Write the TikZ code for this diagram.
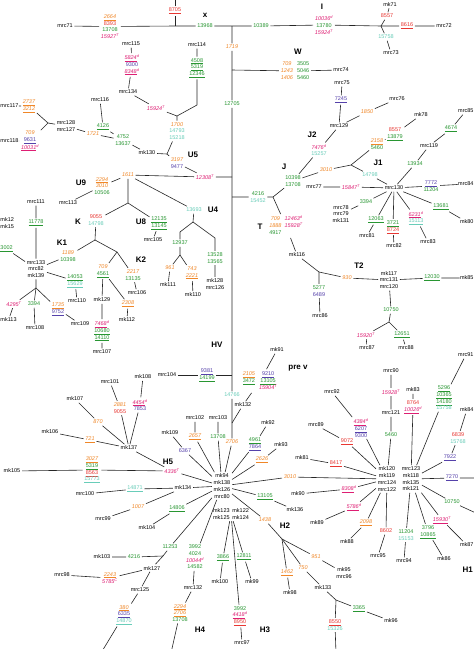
\documentclass[tikz,border=0pt]{standalone}
\usepackage{fontspec}
\setmainfont{Liberation Sans}
\usepackage{xcolor}
\usepackage{tikz}
\definecolor{mutorange}{RGB}{240,135,40}
\definecolor{mutgreen}{RGB}{40,150,50}
\definecolor{mutred}{RGB}{232,55,50}
\definecolor{mutpink}{RGB}{222,30,115}
\definecolor{mutpurple}{RGB}{85,65,170}
\definecolor{mutteal}{RGB}{105,205,185}
\newcommand{\mOr}[1]{\textcolor{mutorange}{\itshape #1}}
\newcommand{\mGr}[1]{\textcolor{mutgreen}{#1}}
\newcommand{\mRd}[1]{\textcolor{mutred}{#1}}
\newcommand{\mPk}[2]{\textcolor{mutpink}{\itshape #1\textsuperscript{#2}}}
\newcommand{\mPu}[1]{\textcolor{mutpurple}{#1}}
\newcommand{\mTl}[1]{\textcolor{mutteal}{#1}}

\begin{document}
\begin{tikzpicture}[x=1pt,y=-1pt,
    smp/.style={font=\fontsize{5.5}{6.7}\selectfont,inner sep=1.6pt,align=center},
    hap/.style={font=\fontsize{8}{9}\selectfont\bfseries,inner sep=0pt},
    lnk/.style={line width=0.6pt,black!85},
  ]
  \fill[white] (0,0) rectangle (474,649);
  \useasboundingbox (0,0) rectangle (474,649);

  % top line
  \node[smp](mrc71) at (65,26){mrc71};
  \node[smp](s2664) at (110,26.5){\mOr{\underline{2664}}\\\mRd{8393}\\\mGr{13708}\\\mPk{15927}{T}};
  \coordinate (j8705) at (175,26);
  \node[smp](n8705) at (175,11){\mRd{\underline{8705}}};
  \coordinate (ctop) at (175,-3);
  \node[hap](lx) at (205,15){x};
  \node[smp](n13968) at (205,26){\mGr{13968}};
  \coordinate (jtop) at (232,26);
  \node[smp](n10389) at (261,26){\mGr{10389}};
  \node[hap](lI) at (322,7){I};
  \node[smp](sI) at (324,25){\mPk{10036}{d}\\\mGr{13780}\\\mPk{15924}{T}};
  \coordinate (jI) at (381,26);
  \node[smp](n8557a) at (387,16){\mRd{8557}};
  \node[smp](mk71) at (390,4.5){mk71};
  \node[smp](n15758a) at (386,37){\mTl{15758}};
  \node[smp](mrc73) at (391,53){mrc73};
  \node[smp](n8616) at (407,26){\mRd{\underline{8616}}};
  \node[smp](mrc72) at (444,26){mrc72};
  \draw[lnk](mrc71)--(s2664)--(j8705)--(n13968)--(jtop)--(n10389)--(sI)--(jI)--(n8616)--(mrc72);
  \draw[lnk](j8705)--(n8705)--(ctop);
  \draw[lnk](jI)--(n8557a)--(mk71);
  \draw[lnk](jI)--(n15758a)--(mrc73);

  % W and trunk
  \coordinate (jW) at (232,70);
  \node[hap](lW) at (298,52){W};
  \node[smp](sW) at (295,71){\begin{tabular}{@{}c@{\hspace{4pt}}c@{}}
    \mOr{709}&\mGr{3505}\\\mOr{1243}&\mGr{5046}\\\mOr{1406}&\mGr{5460}\end{tabular}};
  \node[smp](mrc74) at (341,70){mrc74};
  \draw[lnk](jW)--(sW)--(mrc74);
  \node[smp](n1719) at (232,47){\mOr{1719}};
  \node[smp](n12705) at (232,104){\mGr{12705}};
  \coordinate (j12308) at (232,177);
  \coordinate (j4216) at (232,197);
  \coordinate (jHV) at (232,375);
  \node[smp](n14766) at (232,395){\mTl{14766}};
  \coordinate (jmk132) at (232,423);
  \node[smp](n2706) at (232,442){\mOr{2706}};
  \node[smp](hubH) at (222,486){mk94\\mk138\\mk126\\mrc80};
  \node[smp](hubH2) at (231,514){mk123\enspace mk122\\mk125\enspace mk124};
  \draw[lnk](jtop)--(n1719)--(jW)--(n12705)--(j12308)--(j4216)--(jHV)--(n14766)--(jmk132)--(n2706)--(hubH);

  % U5
  \node[smp](mrc115) at (131,44){mrc115};
  \node[smp](s5824) at (132,65){\mPk{\underline{5824}}{d}\\\mPu{9300}\\\mPk{\underline{8348}}{d}};
  \node[smp](mrc134) at (128,92){mrc134};
  \node[smp](n15924b) at (156,108){\mPk{15924}{T}};
  \node[smp](mrc114) at (197,45){mrc114};
  \node[smp](s4508) at (197,68){\mGr{\underline{4508}}\\\mGr{\underline{5319}}\\\mGr{\underline{12346}}};
  \coordinate (cU5) at (197,105);
  \coordinate (jU5t) at (177,116);
  \node[smp](s1700) at (177,131){\mOr{1700}\\\mTl{14793}\\\mTl{15218}};
  \node[hap](lU5) at (193,155){U5};
  \coordinate (jU5) at (167,154);
  \node[smp](s3197) at (177,163){\mOr{3197}\\\mPu{9477}};
  \node[smp](n12308) at (205,177){\mPk{12308}{T}};
  \node[smp](mk130) at (147,153){mk130};
  \node[smp](s4752) at (123,140){\mGr{4752}\\\mGr{13637}};
  \node[smp](n4126) at (103,127){\mGr{\underline{4126}}};
  \node[smp](mrc116) at (100,100){mrc116};
  \node[smp](n1721) at (93,134){\mOr{1721}};
  \node[smp](smrc128) at (66,126){mrc128\\mrc127};
  \coordinate (jL) at (48,123);
  \node[smp](s2737) at (29,106){\mOr{\underline{2737}}\\\mOr{\underline{3212}}};
  \node[smp,anchor=west,inner xsep=0.3pt](mrc117) at (0,106){mrc117};
  \node[smp](s709a) at (30,141){\mOr{709}\\\mPu{\underline{9631}}\\\mPk{\underline{10031}}{d}};
  \node[smp,anchor=west,inner xsep=0.3pt](mrc118) at (0,141){mrc118};
  \draw[lnk](mrc115)--(s5824)--(mrc134)--(n15924b)--(jU5t)--(s1700)--(jU5)--(s3197)--(n12308)--(j12308);
  \draw[lnk](mrc114)--(s4508)--(cU5)--(jU5t);
  \draw[lnk](jU5)--(mk130)--(s4752)--(n1721)--(smrc128)--(jL);
  \draw[lnk](mrc116)--(n4126)--(s4752);
  \draw[lnk](mrc117)--(s2737)--(jL)--(s709a)--(mrc118);

  % U9, K, U8
  \node[smp](n1611) at (128,175){\mOr{1611}};
  \node[hap](lU9) at (81,183){U9};
  \node[smp](s2294) at (102,186){\mOr{\underline{2294}}\\\mOr{3010}\\\mGr{10506}};
  \node[smp](mrc113) at (68,203){mrc113};
  \coordinate (jK) at (128,203);
  \node[smp](sK) at (96,220){\mRd{9055}\\\mTl{14798}};
  \node[hap](lK) at (78,222){K};
  \coordinate (jK1) at (95,240);
  \coordinate (jK2) at (117,252);
  \node[smp](sK1) at (68,256){\mOr{1189}\\\mGr{10398}};
  \node[hap](lK1) at (62,243){K1};
  \node[smp](s709b) at (103,271){\mOr{709}\\\mGr{\underline{4561}}};
  \node[smp](s2217) at (133,275){\mOr{2217}\\\mGr{13135}};
  \node[hap](lK2) at (141,260){K2};
  \node[smp](mrc106) at (137,293){mrc106};
  \node[smp](mk129) at (102,300){mk129};
  \node[smp](n2308) at (128,304){\mOr{\underline{2308}}};
  \node[smp](mk112) at (127,320){mk112};
  \node[smp](s7468) at (102,331){\mPk{\underline{7468}}{d}\\\mGr{\underline{10680}}\\\mGr{\underline{14110}}};
  \node[smp](mrc107) at (102,352){mrc107};
  \node[hap](lU8) at (141,222){U8};
  \node[smp](sU8) at (159,223){\mGr{\underline{12135}}\\\mGr{\underline{13145}}};
  \node[smp](mrc105) at (153,240){mrc105};
  \draw[lnk](n12308)--(n1611)--(jK)--(sK)--(jK1)--(sK1);
  \draw[lnk](s2294)--(n1611);
  \draw[lnk](s2294)--(mrc113);
  \draw[lnk](jK)--(sU8)--(mrc105);
  \draw[lnk](jK1)--(jK2)--(s709b)--(mk129)--(s7468)--(mrc107);
  \draw[lnk](jK2)--(s2217)--(mrc106);
  \draw[lnk](s709b)--(n2308)--(mk112);

  % U4
  \node[smp](n13693) at (194,210){\mTl{13693}};
  \node[hap](lU4) at (213,210){U4};
  \coordinate (jU4) at (193,222);
  \coordinate (cU4a) at (180,232);
  \coordinate (cU4b) at (215,238);
  \node[smp](n12937) at (180,243){\mGr{12937}};
  \node[smp](s13528) at (215,258){\mGr{13528}\\\mGr{13565}};
  \node[smp](smk128) at (215,284){mk128\\mrc126};
  \coordinate (jU4b) at (180,255);
  \node[smp](n961) at (170,268){\mOr{961}};
  \node[smp](s743) at (192,273){\mOr{743}\\\mOr{\underline{2221}}};
  \node[smp](mk111) at (168,285){mk111};
  \node[smp](mk110) at (193,295){mk110};
  \draw[lnk](n1611)--(n13693)--(jU4)--(cU4a)--(n12937)--(jU4b)--(n961)--(mk111);
  \draw[lnk](jU4)--(cU4b)--(s13528)--(smk128);
  \draw[lnk](jU4b)--(s743)--(mk110);

  % K1 hub
  \node[smp](hub133) at (36,269){mrc133\\mrc82\\mk139};
  \node[smp](mrc111) at (36,202){mrc111};
  \node[smp](n11778) at (36,223){\mGr{\underline{11778}}};
  \node[smp](s14053) at (75,281){\mGr{\underline{14053}}\\\mTl{\underline{15629}}};
  \node[smp](mrc110) at (77,301){mrc110};
  \coordinate (j133) at (36,288);
  \node[smp](n4295) at (14,304){\mPk{4295}{T}};
  \node[smp](n3394a) at (34,304){\mGr{3394}};
  \node[smp](s1735) at (58,309){\mOr{\underline{1735}}\\\mPu{\underline{9752}}};
  \node[smp,anchor=west,inner xsep=0.3pt](mk113) at (0,320){mk113};
  \node[smp](mrc108) at (35,328){mrc108};
  \node[smp](mrc109) at (80,324){mrc109};
  \node[smp,anchor=west,inner xsep=0.3pt](sL12) at (0,223){mk12\\mk15};
  \node[smp,anchor=west,inner xsep=0.3pt](n3002) at (0,249){\mGr{\underline{3002}}};
  \draw[lnk](mrc111)--(n11778)--(hub133)--(sK1);
  \draw[lnk](hub133)--(s14053)--(mrc110);
  \draw[lnk](hub133)--(j133)--(n4295)--(mk113);
  \draw[lnk](j133)--(n3394a)--(mrc108);
  \draw[lnk](j133)--(s1735)--(mrc109);
  \draw[lnk](n3002)--(hub133);

  % J and T
  \node[smp](s4216) at (258,197){\mGr{4216}\\\mTl{15452}};
  \coordinate (jJT) at (273,197);
  \node[smp](sJ) at (293,181){\mGr{10398}\\\mGr{13708}};
  \node[hap](lJ) at (284,167){J};
  \node[smp](sT) at (286,226){\begin{tabular}{@{}c@{\hspace{3pt}}c@{}}
    \mOr{709}&\mPk{12463}{d}\\\mOr{1888}&\mPk{15928}{T}\\\mGr{4917}&\end{tabular}};
  \node[hap](lT) at (260,227){T};
  \draw[lnk](j4216)--(s4216)--(jJT)--(sJ);
  \draw[lnk](jJT)--(sT);

  % T2
  \node[smp](mk116) at (297,255){mk116};
  \coordinate (jT2) at (319,272);
  \node[smp](s5277) at (319,291){\mGr{5277}\\\mPu{6489}};
  \node[smp](mrc86) at (320,316){mrc86};
  \node[smp](n930) at (347,278){\mOr{930}};
  \node[hap](lT2) at (359,266){T2};
  \node[smp](sT2) at (389,280){mk117\\mrc131\\mrc120};
  \node[smp](n12030) at (432,278){\mGr{\underline{12030}}};
  \node[smp,anchor=east,inner xsep=0.3pt](mk85) at (474,278){mk85};
  \node[smp](n10750) at (391,310){\mGr{10750}};
  \coordinate (jT2b) at (389,322);
  \node[smp](n15920) at (366,335){\mPk{15920}{T}};
  \node[smp](n12651) at (402,335){\mGr{\underline{12651}}};
  \node[smp](mrc87) at (367,348){mrc87};
  \node[smp](mrc88) at (406,348){mrc88};
  \draw[lnk](sT)--(mk116)--(jT2)--(s5277)--(mrc86);
  \draw[lnk](jT2)--(n930)--(sT2)--(n12030)--(mk85);
  \draw[lnk](sT2)--(n10750)--(jT2b)--(n15920)--(mrc87);
  \draw[lnk](jT2b)--(n12651)--(mrc88);

  % J2, J1
  \node[hap](lJ2) at (312,135){J2};
  \node[smp](s7476) at (319,150){\mPk{7476}{d}\\\mTl{15257}};
  \node[smp](mrc129) at (339,126){mrc129};
  \node[smp](n7245) at (341,100){\mPu{\underline{7245}}};
  \node[smp](mrc75) at (342,83){mrc75};
  \node[smp](n1850) at (367,112){\mOr{1850}};
  \node[smp](mrc76) at (397,99){mrc76};
  \draw[lnk](sJ)--(s7476)--(mrc129)--(n7245)--(mrc75);
  \draw[lnk](mrc129)--(n1850)--(mrc76);
  \node[smp](n3010c) at (326,170){\mOr{3010}};
  \coordinate (jJ1) at (351,165);
  \node[smp](s2158) at (377,144){\mOr{\underline{2158}}\\\mGr{5460}};
  \node[hap](lJ1) at (378,163){J1};
  \node[smp](n14798b) at (370,175){\mTl{14798}};
  \node[smp](mrc130) at (394,188){mrc130};
  \node[smp](mk78) at (421,115){mk78};
  \node[smp](s8557) at (395,134){\mRd{8557}\\\mGr{\underline{13879}}};
  \node[smp,anchor=east,inner xsep=0.3pt](mrc85) at (474,111){mrc85};
  \node[smp](n4674) at (451,129){\mGr{\underline{4674}}};
  \node[smp](mrc119) at (429,146){mrc119};
  \node[smp](n13934) at (415,164){\mGr{13934}};
  \node[smp](n15847) at (351,187){\mPk{15847}{T}};
  \node[smp](mrc77) at (314,187){mrc77};
  \node[smp](s7772) at (431,186){\mPu{\underline{7772}}\\\mGr{11204}};
  \node[smp,anchor=east,inner xsep=0.3pt](mrc84) at (474,184){mrc84};
  \node[smp](n13681) at (441,207){\mGr{\underline{13681}}};
  \node[smp,anchor=east,inner xsep=0.3pt](mk80) at (474,222){mk80};
  \node[smp](s6231) at (416,218){\mPk{\underline{6231}}{d}\\\mTl{\underline{15113}}};
  \node[smp](mrc83) at (428,242){mrc83};
  \node[smp](s3721) at (393,227){\mGr{\underline{3721}}\\\mRd{\underline{8724}}};
  \node[smp](mrc82b) at (394,246){mrc82};
  \node[smp](n12063) at (376,220){\mGr{\underline{12063}}};
  \node[smp](mrc81) at (367,236){mrc81};
  \node[smp](n3394b) at (366,202){\mGr{3394}};
  \node[smp](smrc78) at (341,214){mrc78\\mrc79\\mk131};
  \draw[lnk](sJ)--(n3010c)--(jJ1)--(s2158)--(s8557)--(mk78);
  \draw[lnk](jJ1)--(n14798b)--(mrc130);
  \draw[lnk](mrc85)--(n4674)--(mrc119)--(n13934)--(mrc130);
  \draw[lnk](mrc77)--(n15847)--(mrc130)--(s7772)--(mrc84);
  \draw[lnk](mrc130)--(n13681)--(mk80);
  \draw[lnk](mrc130)--(s6231)--(mrc83);
  \draw[lnk](mrc130)--(s3721)--(mrc82b);
  \draw[lnk](mrc130)--(n12063)--(mrc81);
  \draw[lnk](mrc130)--(n3394b)--(smrc78);

  % HV and pre V
  \node[smp](mrc104) at (167,375){mrc104};
  \node[smp](s9381) at (207,375){\mPu{\underline{9381}}\\\mGr{\underline{14199}}};
  \node[hap](lHV) at (217,345){HV};
  \node[smp](mk91) at (277,350){mk91};
  \node[hap](lpre) at (298,368){pre v};
  \node[smp](s2105) at (260,381){\begin{tabular}{@{}c@{\hspace{4pt}}c@{}}
    \mOr{\underline{2105}}&\mPu{\underline{9210}}\\\mGr{\underline{3472}}&\mGr{\underline{13105}}\\&\mPk{15904}{T}\end{tabular}};
  \node[smp](mk132) at (243,405){mk132};
  \draw[lnk](mrc104)--(s9381)--(jHV);
  \draw[lnk](mk91)--(s2105)--(mk132)--(jmk132);

  % H hub
  \node[smp](mrc102) at (195,418){mrc102};
  \node[smp](n2657) at (195,437){\mOr{\underline{2657}}};
  \node[smp](mrc103) at (218,418){mrc103};
  \node[smp](n13708b) at (218,437){\mGr{13708}};
  \node[smp](mk109) at (170,433){mk109};
  \node[smp](n6367) at (185,451){\mPu{6367}};
  \node[smp](mk92) at (268,423){mk92};
  \node[smp](s4961) at (255,444){\mGr{\underline{4961}}\\\mPu{\underline{7864}}};
  \node[smp](mk93) at (281,445){mk93};
  \node[smp](n2626) at (262,460){\mOr{\underline{2626}}};
  \node[smp](n3010b) at (290,477){\mOr{3010}};
  \draw[lnk](mrc102)--(n2657)--(hubH);
  \draw[lnk](mrc103)--(n13708b)--(hubH);
  \draw[lnk](mk109)--(n6367)--(hubH);
  \draw[lnk](mk92)--(s4961)--(hubH);
  \draw[lnk](mk93)--(n2626)--(hubH);

  % H5
  \node[hap](lH5) at (168,462){H5};
  \node[smp](n4336) at (172,471){\mPk{4336}{T}};
  \node[smp](s3027) at (92,470){\mOr{\underline{3027}}\\\mGr{\underline{5319}}\\\mRd{\underline{8563}}\\\mTl{\underline{15773}}};
  \node[smp](mk105) at (12,471){mk105};
  \node[smp](mk137) at (129,448){mk137};
  \node[smp](s2881) at (120,408){\mOr{2881}\\\mRd{9055}};
  \node[smp](mrc101) at (110,382){mrc101};
  \node[smp](s4454) at (140,405){\mPk{\underline{4454}}{d}\\\mPu{7853}};
  \node[smp](mk108) at (143,377){mk108};
  \node[smp](n870) at (98,422){\mOr{870}};
  \node[smp](mk107) at (75,399){mk107};
  \node[smp](n721) at (90,440){\mOr{\underline{721}}};
  \node[smp](mk106) at (50,432){mk106};
  \draw[lnk](mk105)--(s3027)--(n4336)--(hubH);
  \draw[lnk](mk137)--(n4336);
  \draw[lnk](mrc101)--(s2881)--(mk137);
  \draw[lnk](mk108)--(s4454)--(mk137);
  \draw[lnk](mk107)--(n870)--(mk137);
  \draw[lnk](mk106)--(n721)--(mk137);

  % lower left
  \node[smp](mk134) at (183,488){mk134};
  \node[smp](n14871) at (135,489){\mTl{\underline{14871}}};
  \node[smp](mrc100) at (85,494){mrc100};
  \node[smp](n1007) at (138,507){\mOr{1007}};
  \node[smp](mrc99) at (103,519){mrc99};
  \node[smp](n14806) at (177,509){\mGr{\underline{14806}}};
  \node[smp](mk104) at (147,528){mk104};
  \draw[lnk](mrc100)--(n14871)--(mk134)--(hubH);
  \draw[lnk](mrc99)--(n1007)--(mk134);
  \draw[lnk](mk104)--(n14806)--(hubH);
  \node[smp](n11253) at (170,547){\mGr{11253}};
  \coordinate (j127) at (163,556);
  \node[smp](mk127) at (152,568){mk127};
  \node[smp](n4216b) at (134,557){\mGr{4216}};
  \node[smp](mk103) at (102,557){mk103};
  \node[smp](s2243) at (110,578){\mOr{\underline{2243}}\\\mPk{5785}{C}};
  \node[smp](mrc98) at (62,575){mrc98};
  \node[smp](mrc125) at (140,590){mrc125};
  \node[smp](s380) at (124,615){\mOr{\underline{380}}\\\mPu{\underline{6335}}\\\mTl{\underline{14870}}};
  \coordinate (cbot1) at (101,653);
  \draw[lnk](hubH)--(n11253)--(j127)--(mk127);
  \draw[lnk](mk103)--(n4216b)--(j127);
  \draw[lnk](mrc98)--(s2243)--(mk127)--(mrc125)--(s380)--(cbot1);

  % H4, H3
  \node[smp](s3992) at (195,557){\mGr{3992}\\\mGr{4024}\\\mPk{10044}{d}\\\mGr{14582}};
  \node[smp](mrc132) at (193,588){mrc132};
  \node[smp](s2294b) at (180,613){\mOr{\underline{2294}}\\\mOr{\underline{2706}}\\\mGr{13708}};
  \node[hap](lH4) at (200,630){H4};
  \coordinate (cbot2) at (171,653);
  \draw[lnk](hubH)--(s3992)--(mrc132)--(s2294b)--(cbot2);
  \node[smp](n3866) at (223,558){\mGr{\underline{3866}}};
  \node[smp](mk100) at (220,582){mk100};
  \node[smp](n12811) at (244,557){\mGr{\underline{12811}}};
  \node[smp](mk99) at (252,582){mk99};
  \node[smp](s3992b) at (240,616){\mGr{3992}\\\mPk{\underline{4418}}{d}\\\mRd{\underline{8950}}};
  \node[smp](mrc97) at (242,643){mrc97};
  \node[hap](lH3) at (265,630){H3};
  \draw[lnk](hubH2)--(n3866)--(mk100);
  \draw[lnk](hubH2)--(n12811)--(mk99);
  \draw[lnk](hubH2)--(s3992b)--(mrc97);

  % H2
  \node[smp](n1438) at (265,520){\mOr{1438}};
  \node[hap](lH2) at (285,526){H2};
  \coordinate (jH2) at (282,539);
  \node[smp](n1462) at (287,573){\mOr{\underline{1462}}};
  \node[smp](mk98) at (290,593){mk98};
  \node[smp](n951) at (316,557){\mOr{951}};
  \node[smp](smk95) at (344,573){mk95\\mrc96};
  \node[smp](n750) at (303,568){\mOr{750}};
  \node[smp](mk133) at (323,588){mk133};
  \coordinate (j133b) at (336,600);
  \node[smp](n3365) at (359,609){\mGr{\underline{3365}}};
  \node[smp](mk96) at (391,621){mk96};
  \node[smp](s8550) at (335,625){\mRd{\underline{8550}}\\\mTl{15326}};
  \coordinate (cbot3) at (336,653);
  \draw[lnk](hubH)--(n1438)--(jH2)--(n1462)--(mk98);
  \draw[lnk](jH2)--(n951)--(smk95);
  \draw[lnk](jH2)--(n750)--(mk133)--(j133b)--(n3365)--(mk96);
  \draw[lnk](j133b)--(s8550)--(cbot3);
  \node[smp](n13105b) at (265,497){\mGr{\underline{13105}}};
  \node[smp](mk136) at (295,510){mk136};
  \draw[lnk](hubH)--(n13105b)--(mk136);

  % right hub
  \node[smp](hubR1) at (387,479){mk120\\mk119\\mrc124\\mrc122};
  \node[smp](hubR2) at (411,479){mrc123\\mk118\\mk135\\mk121};
  \draw[lnk](hubH)--(n3010b)--(hubR1);
  \node[smp](mrc90) at (391,371){mrc90};
  \node[smp](n15928b) at (391,392){\mPk{15928}{T}};
  \node[smp](mrc121) at (391,413){mrc121};
  \node[smp](n5460c) at (391,435){\mGr{5460}};
  \node[smp](mk83) at (413,390){mk83};
  \node[smp](s8764) at (413,407){\mRd{8764}\\\mPk{\underline{10026}}{d}};
  \node[smp](mrc92) at (332,392){mrc92};
  \node[smp](s4384) at (361,428){\mPk{\underline{4384}}{d}\\\mPu{\underline{6207}}\\\mPu{9300}};
  \node[smp](mrc89) at (316,425){mrc89};
  \node[smp](n9072) at (347,442){\mRd{\underline{9072}}};
  \node[smp](mk81) at (302,458){mk81};
  \node[smp](n8417) at (336,464){\mRd{\underline{8417}}};
  \draw[lnk](mrc90)--(n15928b)--(mrc121)--(n5460c)--(hubR1);
  \draw[lnk](mk83)--(s8764)--(hubR2);
  \draw[lnk](mrc92)--(s4384)--(hubR1);
  \draw[lnk](mrc89)--(n9072)--(hubR1);
  \draw[lnk](mk81)--(n8417)--(hubR1);
  \node[smp,anchor=east,inner xsep=0.3pt](mrc91) at (474,355){mrc91};
  \node[smp](s5296) at (444,398){\mGr{\underline{5296}}\\\mGr{\underline{10365}}\\\mGr{\underline{14180}}\\\mTl{15758}};
  \node[smp,anchor=east,inner xsep=0.3pt](mk84) at (474,410){mk84};
  \node[smp](s6839) at (458,438){\mRd{6839}\\\mTl{15768}};
  \node[smp](n7922) at (450,458){\mPu{\underline{7922}}};
  \node[smp](n7270) at (452,478){\mPu{\underline{7270}}};
  \coordinate (cedge2) at (477,478);
  \node[smp](n10750b) at (452,502){\mGr{10750}};
  \coordinate (cedge1) at (478,514);
  \node[smp](n15930) at (442,520){\mPk{\underline{15930}}{T}};
  \node[smp,anchor=east,inner xsep=0.3pt](mk87) at (474,545){mk87};
  \node[smp](s3796) at (428,532){\mGr{3796}\\\mGr{\underline{10865}}};
  \node[smp](mk86) at (444,559){mk86};
  \node[smp](s11204) at (406,535){\mGr{11204}\\\mTl{15153}};
  \node[smp](mrc94) at (404,561){mrc94};
  \draw[lnk](mrc91)--(s5296)--(hubR2);
  \draw[lnk](mk84)--(s6839)--(n7922)--(hubR2);
  \draw[lnk](hubR2)--(n7270)--(cedge2);
  \draw[lnk](hubR2)--(n10750b)--(cedge1);
  \draw[lnk](hubR2)--(n15930)--(mk87);
  \draw[lnk](hubR2)--(s3796)--(mk86);
  \draw[lnk](hubR2)--(s11204)--(mrc94);
  \node[smp](n8602) at (386,531){\mRd{8602}};
  \node[smp](mrc95) at (378,556){mrc95};
  \node[smp](n2098) at (366,523){\mOr{\underline{2098}}};
  \node[smp](mk88) at (347,542){mk88};
  \node[smp](n5786) at (354,507){\mPk{\underline{5786}}{d}};
  \node[smp](mk89) at (317,523){mk89};
  \node[smp](n8308) at (349,489){\mPk{\underline{8308}}{d}};
  \node[smp](mk90) at (298,494){mk90};
  \draw[lnk](hubR1)--(n8602)--(mrc95);
  \draw[lnk](hubR1)--(n2098)--(mk88);
  \draw[lnk](hubR1)--(n5786)--(mk89);
  \draw[lnk](hubR1)--(n8308)--(mk90);
  \node[hap,anchor=east](lH1) at (473,570){H1};
\end{tikzpicture}
\end{document}
